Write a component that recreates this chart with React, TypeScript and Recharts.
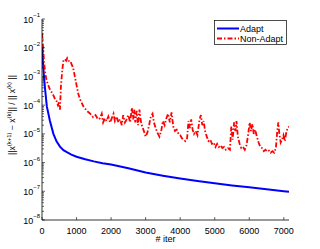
import React from 'react';
import { LineChart, Line, XAxis, YAxis, Legend } from 'recharts';

// [iteration, relative change]
const adaptPoints: [number, number][] = [
  [0, 1.0e-2], [40, 1.8e-3], [90, 3.5e-4], [140, 9e-5], [230, 2.8e-5],
  [330, 1.0e-5], [420, 5.5e-6], [520, 3.6e-6], [620, 2.7e-6], [720, 2.3e-6],
  [850, 1.9e-6], [1000, 1.6e-6], [1250, 1.3e-6], [1500, 1.1e-6], [1750, 9.5e-7],
  [2000, 8.5e-7], [2500, 6.3e-7], [3000, 4.5e-7], [3500, 3.5e-7], [4000, 2.8e-7],
  [4500, 2.3e-7], [5000, 1.9e-7], [5500, 1.6e-7], [6000, 1.37e-7], [6500, 1.18e-7],
  [7000, 1.0e-7], [7150, 9.6e-8],
];

const nonAdaptPoints: [number, number][] = [
  [0, 3.2e-2], [20, 1.6e-2], [40, 7e-3], [60, 3.2e-3], [90, 1.4e-3], [135, 7e-4],
  [180, 5e-4], [230, 3.5e-4], [280, 2.8e-4], [330, 2.2e-4], [380, 1.6e-4], [420, 1.4e-4],
  [460, 1e-4], [490, 1.25e-4], [520, 7e-5], [550, 5e-4], [590, 1.8e-3], [620, 3.5e-3],
  [660, 4e-3], [700, 3.5e-3], [730, 4.3e-3], [770, 3.5e-3], [810, 3.5e-3], [850, 2.8e-3],
  [900, 2e-3], [950, 1e-3], [1000, 5e-4], [1050, 2.5e-4], [1100, 1.6e-4], [1200, 9e-5],
  [1300, 6.3e-5], [1400, 5e-5], [1480, 3.8e-5], [1550, 4.5e-5], [1620, 3.2e-5], [1680, 3.5e-5],
  [1730, 5e-5], [1770, 2.5e-5], [1820, 3.5e-5], [1870, 2.8e-5], [1920, 4e-5], [1970, 2.5e-5],
  [2020, 3.5e-5], [2070, 5e-5], [2110, 2.8e-5], [2160, 4e-5], [2210, 2.5e-5], [2260, 3.2e-5],
  [2310, 2e-5], [2350, 4.5e-5], [2400, 2.5e-5], [2450, 3.2e-5], [2500, 4.5e-5], [2550, 2.5e-5],
  [2600, 8e-5], [2640, 3.2e-5], [2670, 7e-5], [2700, 2.5e-5], [2740, 6.3e-5], [2780, 2e-5],
  [2820, 7e-5], [2860, 2.8e-5], [2900, 1.8e-5], [2950, 1.25e-5], [3000, 8e-6], [3050, 1.1e-5],
  [3100, 2e-5], [3150, 4e-5], [3200, 5e-5], [3240, 2.5e-5], [3290, 1.6e-5], [3340, 1.1e-5],
  [3400, 8e-6], [3450, 1.25e-5], [3500, 2.8e-5], [3550, 2e-5], [3600, 3.5e-5], [3650, 5e-5],
  [3700, 2.5e-5], [3750, 5.6e-5], [3800, 1.8e-5], [3850, 1.25e-5], [3900, 1.4e-5], [3950, 1e-5],
  [4000, 9e-6], [4050, 7e-6], [4100, 6.3e-6], [4150, 5.6e-6], [4200, 7e-6], [4240, 2.8e-5],
  [4280, 1.6e-5], [4320, 3.2e-5], [4360, 1.4e-5], [4400, 1e-5], [4450, 1.25e-5], [4500, 9e-6],
  [4560, 3.2e-5], [4600, 4.5e-5], [4640, 2e-5], [4680, 2.8e-5], [4720, 1.25e-5], [4770, 8e-6],
  [4820, 5.6e-6], [4870, 6.3e-6], [4920, 4.5e-6], [4970, 5e-6], [5020, 3.5e-6], [5070, 4.5e-6],
  [5120, 3.5e-6], [5170, 4e-6], [5220, 3.2e-6], [5270, 3.5e-6], [5320, 2.8e-6], [5380, 3.2e-6],
  [5440, 2.8e-6], [5480, 1.8e-5], [5520, 6.3e-6], [5560, 2.5e-5], [5600, 1.25e-5], [5630, 2.8e-5],
  [5670, 8e-6], [5720, 4.5e-6], [5770, 3.2e-6], [5820, 3.5e-6], [5870, 2.8e-6], [5920, 4e-6],
  [5970, 1e-5], [6010, 2.5e-5], [6050, 1.25e-5], [6090, 2.2e-5], [6130, 1e-5], [6170, 1.4e-5],
  [6220, 8e-6], [6270, 5e-6], [6320, 3.5e-6], [6370, 3.2e-6], [6420, 2.5e-6], [6470, 2.8e-6],
  [6520, 2.4e-6], [6570, 2.6e-6], [6620, 2.2e-6], [6670, 2.5e-6], [6720, 2.2e-6], [6770, 3.2e-6],
  [6810, 1.25e-5], [6840, 2.5e-5], [6870, 1e-5], [6910, 5e-6], [6950, 6.3e-6], [6990, 9e-6],
  [7030, 5.6e-6], [7070, 1.1e-5], [7110, 1.6e-5], [7150, 1.8e-5],
];

const xTicks = [0, 1000, 2000, 3000, 4000, 5000, 6000, 7000];
const yDecades = [-8, -7, -6, -5, -4, -3, -2, -1];
const minorSteps = [2, 3, 4, 5, 6, 7, 8, 9];

const adaptData = adaptPoints.map(([iter, err]) => ({ iter, err }));
const nonAdaptData = nonAdaptPoints.map(([iter, err]) => ({ iter, err }));

const yTicks: number[] = [];
yDecades.forEach((d) => {
  yTicks.push(Math.pow(10, d));
  if (d < -1) minorSteps.forEach((m) => yTicks.push(m * Math.pow(10, d)));
});

const FONT = '"Liberation Sans", Arial, Helvetica, sans-serif';

const isMajor = (v: number) => {
  const e = Math.log10(v);
  return Math.abs(e - Math.round(e)) < 1e-6;
};

const LeftTick = ({ x, y, payload }: any) => {
  const v = payload.value;
  const major = isMajor(v);
  return (
    <g>
      <line x1={x} x2={x + (major ? 3 : 2)} y1={y} y2={y} stroke="#000" strokeWidth={0.6} />
      {major && (
        <text x={x - 2} y={y + 3.5} textAnchor="end" fontFamily={FONT} fontSize={9} fill="#000">
          10
          <tspan dy={-5.5} fontSize={6}>
            {String(Math.round(Math.log10(v))).replace('-', '\u2212')}
          </tspan>
        </text>
      )}
    </g>
  );
};

const RightTick = ({ x, y, payload }: any) => {
  const major = isMajor(payload.value);
  return <line x1={x} x2={x - (major ? 3 : 2)} y1={y} y2={y} stroke="#000" strokeWidth={0.6} />;
};

const BottomTick = ({ x, y, payload }: any) => (
  <g>
    <line x1={x} x2={x} y1={y} y2={y - 3} stroke="#000" strokeWidth={0.6} />
    <text x={x} y={y + 14} textAnchor="middle" fontFamily={FONT} fontSize={9} fill="#000">
      {payload.value}
    </text>
  </g>
);

const TopTick = ({ x, y }: any) => (
  <line x1={x} x2={x} y1={y} y2={y + 3} stroke="#000" strokeWidth={0.6} />
);

const YLabel = () => (
  <text
    x={14.5}
    y={115}
    transform="rotate(-90 14.5 115)"
    textAnchor="middle"
    fontFamily={FONT}
    fontSize={8.5}
    fill="#000"
  >
    ||x
    <tspan dy={-3.5} fontSize={6}>(k+1)</tspan>
    <tspan dy={3.5}> {'\u2212'} x</tspan>
    <tspan dy={-3.5} fontSize={6}>(k)</tspan>
    <tspan dy={3.5}>|| / || x</tspan>
    <tspan dy={-3.5} fontSize={6}>(k)</tspan>
    <tspan dy={3.5}> ||</tspan>
  </text>
);

const XLabel = () => (
  <text x={165.5} y={242} textAnchor="middle" fontFamily={FONT} fontSize={9} fill="#000">
    # iter
  </text>
);

const LegendBox = () => (
  <svg width={73} height={25} style={{ display: 'block' }}>
    <rect x={0.5} y={0.5} width={72} height={24} fill="#fff" stroke="#000" strokeWidth={0.7} />
    <line x1={3} x2={25} y1={8.5} y2={8.5} stroke="#0000ff" strokeWidth={2} />
    <text x={26} y={11.5} fontFamily={FONT} fontSize={9} fill="#000">Adapt</text>
    <line x1={3} x2={25} y1={18.5} y2={18.5} stroke="#ff0000" strokeWidth={1.8} strokeDasharray="5 2 1.5 2" />
    <text x={26} y={21.5} fontFamily={FONT} fontSize={9} fill="#000">Non-Adapt</text>
  </svg>
);

export default function App() {
  return (
    <div style={{ position: 'absolute', left: 0, top: 0, width: 320, height: 249, background: '#fff' }}>
      <LineChart width={320} height={249} margin={{ top: 19, right: 31, bottom: 0, left: 0 }}>
        <XAxis
          dataKey="iter"
          type="number"
          domain={[0, 7150]}
          ticks={xTicks}
          interval={0}
          allowDataOverflow
          height={29}
          tickSize={0}
          tickMargin={0}
          tickLine={false}
          axisLine={{ stroke: '#000', strokeWidth: 0.8 }}
          tick={<BottomTick />}
          label={{ content: () => <XLabel /> }}
        />
        <XAxis
          xAxisId="top"
          orientation="top"
          dataKey="iter"
          type="number"
          domain={[0, 7150]}
          ticks={xTicks}
          interval={0}
          allowDataOverflow
          height={0}
          tickSize={0}
          tickMargin={0}
          tickLine={false}
          axisLine={{ stroke: '#000', strokeWidth: 0.8 }}
          tick={<TopTick />}
        />
        <YAxis
          scale="log"
          domain={[1e-8, 1e-1]}
          ticks={yTicks}
          interval={0}
          allowDataOverflow
          width={42}
          tickSize={0}
          tickMargin={0}
          tickLine={false}
          axisLine={{ stroke: '#000', strokeWidth: 0.8 }}
          tick={<LeftTick />}
          label={{ content: () => <YLabel /> }}
        />
        <YAxis
          yAxisId="right"
          orientation="right"
          scale="log"
          domain={[1e-8, 1e-1]}
          ticks={yTicks}
          interval={0}
          allowDataOverflow
          width={0}
          tickSize={0}
          tickMargin={0}
          tickLine={false}
          axisLine={{ stroke: '#000', strokeWidth: 0.8 }}
          tick={<RightTick />}
        />
        <Line
          data={adaptData}
          dataKey="err"
          name="Adapt"
          type="linear"
          stroke="#0000ff"
          strokeWidth={2}
          dot={false}
          isAnimationActive={false}
        />
        <Line
          data={nonAdaptData}
          dataKey="err"
          name="Non-Adapt"
          type="linear"
          stroke="#ff0000"
          strokeWidth={1.8}
          strokeDasharray="5 2 1.5 2"
          dot={false}
          isAnimationActive={false}
        />
        <Legend
          layout="vertical"
          align="center"
          verticalAlign="middle"
          content={() => <LegendBox />}
          wrapperStyle={{ left: 214, top: 20, width: 73, height: 25 }}
        />
      </LineChart>
    </div>
  );
}
